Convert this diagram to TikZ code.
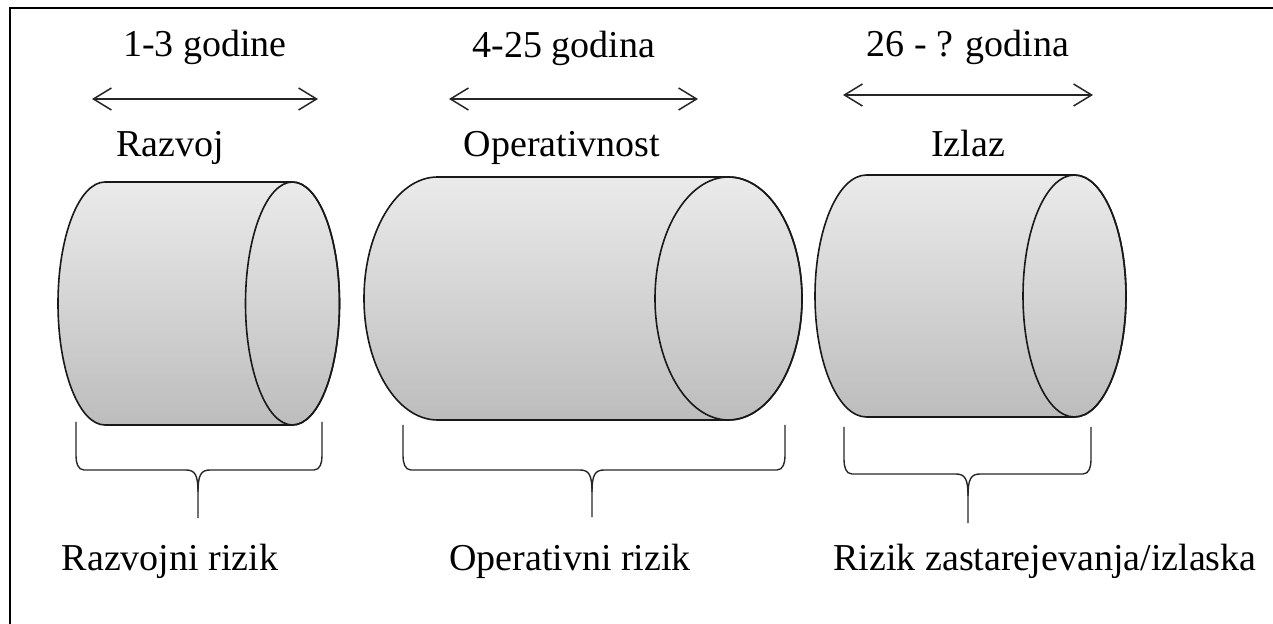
\documentclass[tikz,border=0pt]{standalone}
\usepackage{fontspec}
\setmainfont{Liberation Serif}
\usetikzlibrary{arrows.meta}

\tikzset{
  tube/.style={draw=black!90, line width=0.8pt, top color=gray!16, bottom color=gray!52},
  tubeend/.style={draw=black!90, line width=0.8pt},
  span/.style={{Straight Barb[length=9pt,width=11pt]}-{Straight Barb[length=9pt,width=11pt]}, line width=0.75pt, black!85},
  bracket/.style={draw=black!85, line width=0.7pt},
  lbl/.style={font=\fontsize{19}{23}\selectfont, anchor=base, inner sep=0pt},
}

\begin{document}
\begin{tikzpicture}[x=0.5pt, y=0.5pt]
  \useasboundingbox (0,0) rectangle (1273,-624);
  % frame (only left and top edge in view)
  \draw[line width=1pt] (9.5,-624) -- (9.5,-8.5) -- (1273,-8.5);

  % the three phases as cylinders
  \foreach \n/\xl/\xr/\cy/\rx/\ry in {1/105/292.5/-303.5/47/121.5, 2/437.5/728.5/-298.5/73.5/121.5, 3/866.5/1074.5/-296/51.5/121} {
    \path[tube] (\xl,\cy+\ry) -- (\xr,\cy+\ry) arc[start angle=90, end angle=-90, x radius=\rx, y radius=\ry]
      -- (\xl,\cy-\ry) arc[start angle=270, end angle=90, x radius=\rx, y radius=\ry] -- cycle;
    \draw[tubeend] (\xr,\cy) ellipse[x radius=\rx, y radius=\ry];
  }

  % duration arrows
  \foreach \n/\a/\b/\y in {1/92/318/-99, 2/449/698/-99, 3/843/1093/-95} {
    \coordinate (sa\n) at (\a,\y);
    \coordinate (sb\n) at (\b,\y);
    \draw[span] (sa\n) -- (sb\n);
  }

  % labels
  \node[lbl] (yr1) at (205,-57) {1-3 godine};
  \node[lbl] (yr2) at (564,-58) {4-25 godina};
  \node[lbl] (yr3) at (968,-57) {26 - ? godina};
  \node[lbl] (ph1) at (170,-157) {Razvoj};
  \node[lbl] (ph2) at (562,-157) {Operativnost};
  \node[lbl] (ph3) at (968,-157) {Izlaz};
  \node[lbl] (rk1) at (170,-570) {Razvojni rizik};
  \node[lbl] (rk2) at (570,-570) {Operativni rizik};
  \node[lbl] (rk3) at (1045,-570) {Rizik zastarejevanja/izlaska};

  % braces under the cylinders
  \foreach \bl/\br/\bm/\bt/\bb/\bp in {76/322/198/-422/-470/-518, 403/785/592/-425/-470/-517, 844/1091/968/-427/-474/-523} {
    \draw[bracket] (\bl,\bt) -- (\bl,\bb+14) to[out=-90,in=180] (\bl+8,\bb) -- (\bm-12,\bb)
      .. controls (\bm-3,\bb) and (\bm,\bb-5) .. (\bm,\bb-22) -- (\bm,\bp);
    \draw[bracket] (\br,\bt) -- (\br,\bb+14) to[out=-90,in=0] (\br-8,\bb) -- (\bm+12,\bb)
      .. controls (\bm+3,\bb) and (\bm,\bb-5) .. (\bm,\bb-22);
  }
\end{tikzpicture}
\end{document}
